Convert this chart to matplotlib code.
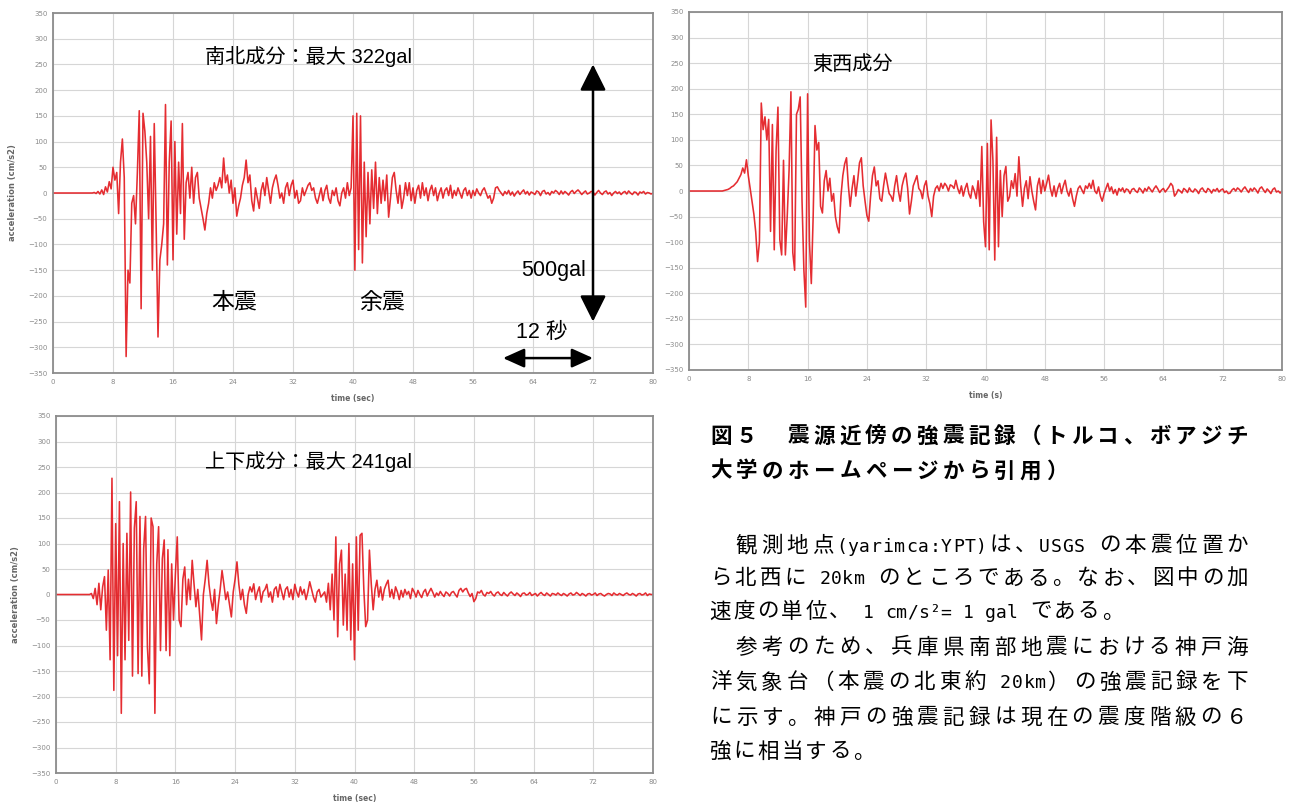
import numpy as np
import matplotlib
matplotlib.use("Agg")
import matplotlib.pyplot as plt

W, H = 1291, 809
DT = 0.25

# 南北成分 (cm/s2), one value every 0.25 s from 0 to 80 s
ns = [0, 0, 0, 0, 0, 0, 0, 0, 0, 0, 0, 0, 0, 0, 0, 0,
      0, 0, 0, 0, 0, 0, 1, -1, 3, -2, 6, -3, 12, 2, 22, 8,
      50, 25, 40, -40, 60, 105, 30, -318, -150, -175, -20, -5, -60, 40, 160, -225,
      155, 120, 60, -50, 110, -150, 135, -60, -280, -130, -100, -60, 172, -140, 60, 140,
      -130, 100, -80, 60, -40, 135, -90, 20, 40, -10, 50, -20, 30, 40, -10, -30,
      -50, -72, -40, -20, 10, -10, 20, 5, 15, 30, 10, 68, 20, 35, 0, 25,
      -20, 10, -45, -25, -10, 15, 30, 64, 20, 35, -15, -35, 10, -10, -30, 5,
      20, -5, 30, 5, -20, 10, 25, 35, 15, -10, 0, -20, 10, 20, -5, 15,
      25, -10, 5, -20, -15, 10, -5, 5, 15, 20, 5, 10, -10, -20, -5, 10,
      -15, 5, 15, -10, -20, 5, -5, 10, -15, -25, 0, 10, -10, 20, -5, 10,
      150, -150, 155, -110, 150, -136, 60, -85, 40, -60, 45, -30, 60, -40, 30, -20,
      25, -15, 35, -47, -10, 30, 40, 5, -20, 15, -30, -10, 20, -5, 20, -15,
      10, -20, 5, 15, -10, 20, -5, 10, -15, 5, 15, -5, 10, -15, 0, 10,
      -10, 5, 10, -5, 15, -10, 5, -5, 10, 0, -10, 5, 10, -5, 5, -10,
      5, -5, 8, 0, -5, 5, 10, 0, -10, -5, -20, -10, 10, 12, 5, 0,
      -5, 3, -2, 5, -4, 2, -6, 0, 4, -3, 2, 6, -2, 3, -4, 2,
      0, -3, 4, 2, -5, 3, 5, -2, 1, -4, 3, 0, 5, 2, -3, 4,
      -2, 3, 0, -4, 2, 5, -1, 3, 6, 2, -3, 1, 4, -2, 0, 3,
      2, -4, 1, 5, 0, -3, 2, 4, -2, 1, -5, 0, 3, -1, 2, -3,
      1, 3, -2, 4, 0, -3, 2, 1, -4, 2, 0, 3, -2, 1, 0, -2,
      0]

# 東西成分
ew = [0, 0, 0, 0, 0, 0, 0, 0, 0, 0, 0, 0, 0, 0, 0, 0,
      0, 0, 0, 1, 2, 3, 5, 8, 10, 14, 18, 25, 32, 45, 35, 61,
      30, 5, -20, -45, -80, -138, -100, 172, 120, 145, 100, 140, -79, 130, -115, 80,
      164, -95, -125, 60, -125, -50, 40, 194, -120, -155, 150, 160, 184, -20, -155, -227,
      190, -100, -181, -50, 128, 80, 95, -30, -43, 20, 40, 0, 25, -20, -5, -50,
      -70, -82, -10, 30, 53, 65, 10, -30, 5, 30, -10, 20, 55, 65, 10, -20,
      -48, -59, -10, 30, 47, 10, 20, -15, -20, 10, 35, 15, -5, -10, -20, 10,
      30, 0, -20, 10, 25, 35, 5, -45, -20, 10, 20, 30, 5, 0, -15, 10,
      20, -10, -25, -50, -10, 5, 10, 0, 15, 5, 15, 10, 0, 12, 10, 5,
      21, 5, -5, 10, -10, 5, 15, -5, -14, 10, 0, -15, 20, -30, 87, -60,
      -109, 93, -115, 139, 60, -135, 105, -109, 40, -50, 30, 48, -20, -11, 20, 5,
      34, -10, 67, 10, -30, 5, 20, -15, 28, 0, -20, -37, 10, 25, -5, 21,
      0, 15, 31, 5, -10, 10, -11, 5, 15, -5, 10, 21, 0, -10, 5, -15,
      -30, -10, 5, 10, 2, -5, 10, 5, 15, 5, 21, 0, -5, 8, -10, -20,
      -5, 5, 15, 0, 8, -5, 3, -8, 5, 0, 6, -3, 4, 2, -5, 3,
      5, 0, -3, 6, 2, -4, 5, 0, 8, 3, -2, 5, 10, 4, -3, 2,
      5, -2, 3, 8, 15, 10, -10, -5, 3, 0, -4, 5, 2, -3, 6, 0,
      -2, 4, 1, -5, 3, 6, 0, -3, 5, 2, -4, 3, 0, 5, -2, 2,
      4, -3, 0, -5, -4, 2, 5, 0, 6, 3, -2, 4, 8, 2, -3, 5,
      0, 6, 2, -4, 5, 8, 2, -3, 4, 0, -5, 3, 6, -2, 0, -4,
      0]

# 上下成分
ud = [0, 0, 0, 0, 0, 0, 0, 0, 0, 0, 0, 0, 0, 0, 0, 0,
      0, 0, 0, 2, -8, 12, -20, 22, -30, 15, 35, -70, 48, -128, 228, -188,
      139, -120, 182, -233, 100, -128, 120, -90, 201, -160, 130, 182, -155, 153, -160, 90,
      153, -103, -175, 150, 133, -233, 60, 133, -110, 70, 107, -110, 88, -120, 60, -50,
      40, 113, -50, -63, 30, 54, -20, 30, -10, 67, 20, -24, 10, -40, -89, 0,
      30, 67, 20, -10, -31, 10, -57, -20, 10, 47, 20, -10, 5, -20, -44, 5,
      30, 64, 20, -10, 10, -20, -37, 0, 15, 5, 21, -10, 5, 15, -15, 5,
      10, 20, -5, 5, -15, 10, 15, -5, 20, 5, -10, 10, 15, -5, 10, -10,
      20, 5, -5, 15, 0, 10, -10, 5, 25, 10, -5, -15, 5, 10, -5, 0,
      5, -15, 22, -30, 40, -50, 113, -83, 60, 87, -60, 40, -70, 100, -89, 60,
      -128, 113, -70, 116, 120, 10, -63, -50, 87, 20, -30, 10, 28, -5, 15, -11,
      10, 20, 28, -5, 10, -8, 15, 5, -10, 8, -5, 10, 0, 6, -8, 12,
      5, -5, 8, 0, -6, 5, 10, -3, 5, 12, 4, -5, 3, -2, 6, 0,
      -4, 5, 2, -3, 4, 6, 0, -5, 8, 12, 5, 10, 12, 3, -4, 2,
      -14, -8, 5, 3, 8, 0, -3, 4, 2, 6, 0, -3, 3, 5, 0, -2,
      4, 0, -3, 2, 5, 1, -2, 3, 0, -4, 2, 3, -1, 0, 4, -2,
      0, 2, -3, 1, 4, 0, -2, 3, 0, -3, 2, 1, -1, 3, 0, -2,
      2, 0, -3, 1, 3, -1, 0, 4, 1, -2, 2, 0, -3, 1, 2, -1,
      0, 3, -2, 1, 2, -1, -3, 0, 2, 1, -2, 3, 0, -1, 2, 0,
      -2, 1, 3, 0, -1, 2, 0, -3, 1, 2, -1, 0, 3, -2, 1, 0,
      0]

x_ticks = list(range(0, 81, 8))
y_ticks = list(range(-350, 351, 50))

caption = ["図５　震源近傍の強震記録（トルコ、ボアジチ",
           "大学のホームページから引用）"]
body = ["　観測地点(yarimca:YPT)は、USGS の本震位置か",
        "ら北西に 20km のところである。なお、図中の加",
        "速度の単位、 1 cm/s²= 1 gal である。",
        "　参考のため、兵庫県南部地震における神戸海",
        "洋気象台（本震の北東約 20km）の強震記録を下",
        "に示す。神戸の強震記録は現在の震度階級の６",
        "強に相当する。"]
body_y = [544, 577, 610, 646, 681, 716, 750]
body_full = [True, True, False, True, True, True, False]

MIX = ["Liberation Sans", "Noto Sans CJK JP"]
RED = "#e3161b"

fig = plt.figure(figsize=(W / 100, H / 100), dpi=100)


def add_ax(l, r, t, b):
    return fig.add_axes([l / W, 1 - b / H, (r - l) / W, (b - t) / H])


def setup(ax, xlabel, ylabel=None):
    ax.set_xlim(0, 80)
    ax.set_ylim(-350, 350)
    ax.set_xticks(x_ticks)
    ax.set_yticks(y_ticks)
    ax.grid(True, color="#d6d6d6", lw=0.8)
    ax.set_axisbelow(True)
    ax.tick_params(labelsize=5, colors="#8a8a8a", length=0, pad=4)
    for s in ax.spines.values():
        s.set_color("#8c8c8c")
        s.set_linewidth(1.3)
    ax.set_xlabel(xlabel, fontsize=5.5, color="#666666", fontweight="bold", labelpad=7)
    if ylabel:
        ax.set_ylabel(ylabel, fontsize=6, color="#666666", fontweight="bold", labelpad=8)


def trace(ax, vals):
    t = np.arange(len(vals)) * DT
    ax.plot(t, vals, color=RED, lw=1.15, alpha=0.9)


# 南北成分
ax1 = add_ax(53, 653, 13, 373)
setup(ax1, "time (sec)", "acceleration (cm/s2)")
trace(ax1, ns)
ax1.text(20.3, 265, "南北成分：最大 322gal", family=MIX, fontsize=14.5, va="center")
ax1.text(24.1, -212, "本震", family=MIX, fontsize=16.5, ha="center", va="center")
ax1.text(43.9, -212, "余震", family=MIX, fontsize=16.5, ha="center", va="center")
ax1.text(66.7, -150, "500gal", family=MIX, fontsize=15.5, ha="center", va="center")
ax1.text(65.2, -272, "12 秒", family=MIX, fontsize=15.5, ha="center", va="center")
ax1.annotate("", xy=(72, 250), xytext=(72, -250),
             arrowprops=dict(arrowstyle="<|-|>,head_length=1.0,head_width=0.5",
                             mutation_scale=16, lw=1.8, color="black",
                             shrinkA=0, shrinkB=0))
ax1.annotate("", xy=(60, -321), xytext=(72, -321),
             arrowprops=dict(arrowstyle="<|-|>,head_length=1.0,head_width=0.45",
                             mutation_scale=13, lw=1.8, color="black",
                             shrinkA=0, shrinkB=0))

# 東西成分
ax2 = add_ax(689, 1282, 12, 370)
setup(ax2, "time (s)")
trace(ax2, ew)
ax2.text(16.6, 248, "東西成分", family=MIX, fontsize=14.5, va="center")

# 上下成分
ax3 = add_ax(56, 653, 416, 773)
setup(ax3, "time (sec)", "acceleration (cm/s2)")
trace(ax3, ud)
ax3.text(20.0, 260, "上下成分：最大 241gal", family=MIX, fontsize=14.5, va="center")


# 本文: one character per cell, full-width cells and narrow half-width cells
def put_line(text, yc, x0=708, x1=None, pitch=24.0, size=15.5, bold=False):
    units = [1.0 if ord(c) >= 0x2E80 else 0.46 for c in text]
    if x1 is not None:
        pitch = (x1 - x0) / sum(units)
    x = x0
    for c, u in zip(text, units):
        w = u * pitch
        if c not in (" ", "\u3000"):
            if u == 1.0:
                fig.text((x + w / 2) / W, 1 - (yc + 7.5) / H, c, ha="center",
                         va="baseline", fontsize=size, family="Noto Sans CJK JP",
                         fontweight="bold" if bold else "normal")
            else:
                fig.text((x + w / 2) / W, 1 - (yc + 7.5) / H, c, ha="center",
                         va="baseline", fontsize=size * 0.84, family="DejaVu Sans Mono")
        x += w
    return pitch


cap_pitch = put_line(caption[0], 435, x1=1250, bold=True)
put_line(caption[1], 470, pitch=cap_pitch, bold=True)
for line, yc, full in zip(body, body_y, body_full):
    put_line(line, yc, x1=1250 if full else None)

fig.savefig("out.png", dpi=100)
